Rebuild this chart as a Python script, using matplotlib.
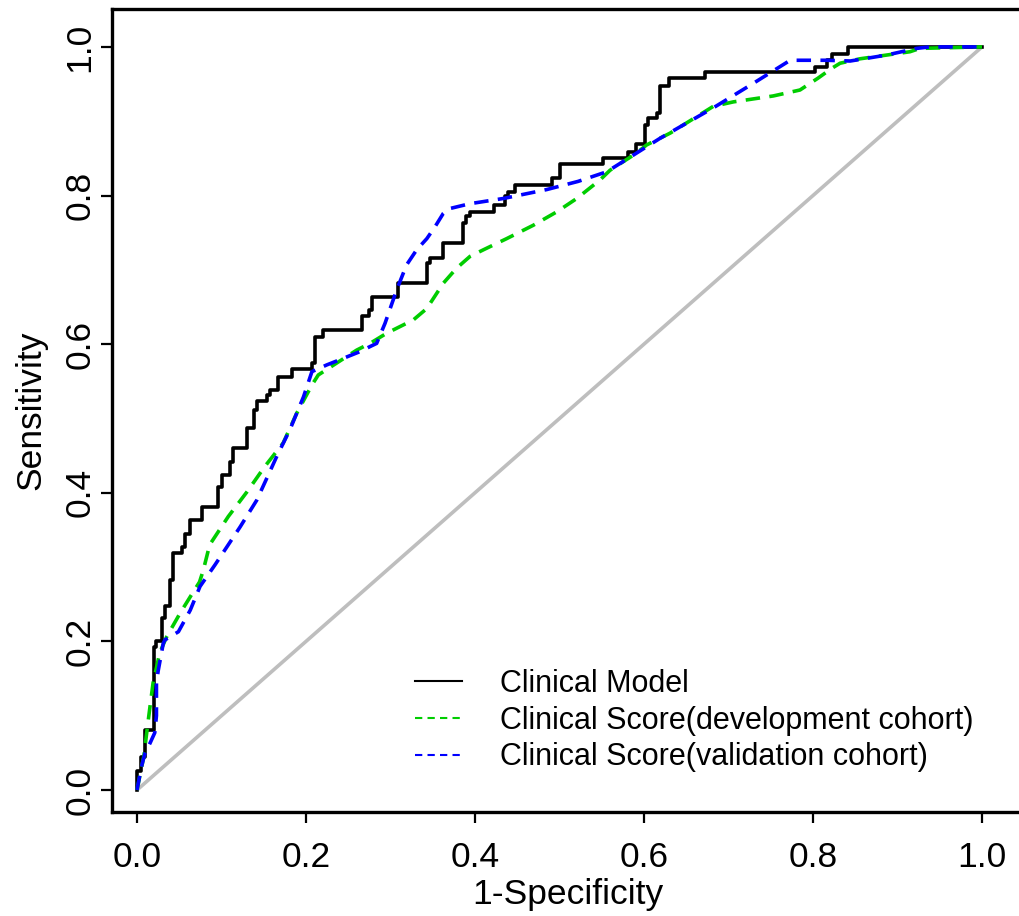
import matplotlib
matplotlib.use("Agg")
import matplotlib.pyplot as plt
from matplotlib.lines import Line2D

# ---------------- data ----------------
model_fpr = [0, 0, 0.0047, 0.0095, 0.020, 0.023, 0.029, 0.033, 0.039, 0.043,
             0.053, 0.057, 0.063, 0.0765, 0.096, 0.100, 0.110, 0.114, 0.130, 0.138,
             0.142, 0.1535, 0.157, 0.167, 0.183, 0.207, 0.211, 0.2205, 0.266, 0.274,
             0.278, 0.309, 0.343, 0.347, 0.3625, 0.386, 0.389, 0.394, 0.422, 0.4355,
             0.439, 0.447, 0.491, 0.5006, 0.552, 0.581, 0.591, 0.601, 0.605, 0.615,
             0.619, 0.629, 0.672, 0.802, 0.816, 0.822, 0.842, 1.0]
model_tpr = [0, 0.026, 0.045, 0.081, 0.193, 0.200, 0.231, 0.247, 0.283, 0.319,
             0.327, 0.345, 0.363, 0.381, 0.408, 0.424, 0.442, 0.460, 0.487, 0.511,
             0.523, 0.532, 0.538, 0.556, 0.566, 0.574, 0.610, 0.619, 0.638, 0.646,
             0.664, 0.682, 0.709, 0.716, 0.736, 0.763, 0.772, 0.778, 0.787, 0.799,
             0.805, 0.814, 0.823, 0.842, 0.850, 0.859, 0.869, 0.895, 0.904, 0.911,
             0.947, 0.958, 0.966, 0.9735, 0.982, 0.991, 1.0, 1.0]

dev_fpr = [0, 0.008, 0.014, 0.019, 0.027, 0.035, 0.051, 0.063, 0.074, 0.0785,
           0.086, 0.108, 0.130, 0.151, 0.173, 0.189, 0.207, 0.2145, 0.260, 0.2757,
           0.2955, 0.327, 0.343, 0.3625, 0.378, 0.394, 0.410, 0.4375, 0.469, 0.4967,
           0.5204, 0.548, 0.5598, 0.591, 0.603, 0.631, 0.682, 0.7057, 0.753, 0.7846,
           0.806, 0.822, 0.832, 0.8556, 0.887, 0.9148, 0.9266, 1.0]
dev_tpr = [0, 0.045, 0.100, 0.144, 0.185, 0.206, 0.238, 0.260, 0.280, 0.296,
           0.330, 0.368, 0.401, 0.435, 0.467, 0.507, 0.545, 0.5585, 0.592, 0.601,
           0.6147, 0.6326, 0.648, 0.682, 0.702, 0.718, 0.727, 0.742, 0.760, 0.778,
           0.796, 0.821, 0.834, 0.857, 0.868, 0.884, 0.920, 0.926, 0.934, 0.942,
           0.958, 0.971, 0.978, 0.984, 0.989, 0.9935, 0.998, 1.0]

val_fpr = [0, 0.005, 0.0095, 0.0154, 0.021, 0.023, 0.023, 0.025, 0.031, 0.033,
           0.049, 0.063, 0.0746, 0.0923, 0.122, 0.1417, 0.157, 0.165, 0.181, 0.197,
           0.207, 0.2245, 0.240, 0.264, 0.2757, 0.2836, 0.2935, 0.3073, 0.319, 0.331,
           0.343, 0.3527, 0.3625, 0.3685, 0.394, 0.4335, 0.4848, 0.522, 0.556, 0.591,
           0.619, 0.682, 0.7294, 0.773, 0.816, 0.844, 0.887, 0.9227, 0.938, 1.0]
val_tpr = [0, 0.030, 0.050, 0.063, 0.077, 0.100, 0.144, 0.160, 0.197, 0.202,
           0.213, 0.242, 0.274, 0.303, 0.354, 0.390, 0.428, 0.448, 0.485, 0.529,
           0.563, 0.572, 0.579, 0.590, 0.5967, 0.601, 0.628, 0.673, 0.7066, 0.727,
           0.742, 0.758, 0.776, 0.782, 0.789, 0.796, 0.808, 0.819, 0.832, 0.857,
           0.877, 0.918, 0.951, 0.982, 0.982, 0.981, 0.989, 0.998, 1.0, 1.0]

ref_x = [0, 1]
ref_y = [0, 1]

ticks = [0.0, 0.2, 0.4, 0.6, 0.8, 1.0]
tick_labels = ["0.0", "0.2", "0.4", "0.6", "0.8", "1.0"]
series_labels = ["Clinical Model",
                 "Clinical Score(development cohort)",
                 "Clinical Score(validation cohort)"]

# ---------------- figure ----------------
plt.rcParams['font.family'] = ['Liberation Sans', 'DejaVu Sans']
W, H = 1019, 916
fig = plt.figure(figsize=(W / 100, H / 100), dpi=100)

# axes box in pixels
px_left, px_right, px_top, px_bottom = 112, 1024.25, 9, 812
ax = fig.add_axes([px_left / W, 1 - px_bottom / H,
                   (px_right - px_left) / W, (px_bottom - px_top) / H])
ax.set_xlim(-0.0296, 1.05)
ax.set_ylim(-0.0296, 1.051)

green = "#00CD00"
blue = "#0000FF"
grey = "#BEBEBE"
lw = 2.6
dash = (4.0, 2.6)

ax.plot(ref_x, ref_y, color=grey, lw=lw, solid_capstyle='butt', zorder=1)
ax.plot(model_fpr, model_tpr, color="black", lw=lw, drawstyle='steps-post', zorder=2)
ax.plot(dev_fpr, dev_tpr, color=green, lw=lw, linestyle=(0, dash), zorder=3)
ax.plot(val_fpr, val_tpr, color=blue, lw=lw, linestyle=(0, dash), zorder=4)

for s in ax.spines.values():
    s.set_linewidth(2.4)

ax.set_xticks(ticks)
ax.set_xticklabels(tick_labels)
ax.set_yticks(ticks)
ax.set_yticklabels(tick_labels, rotation=90, va='center')
ax.tick_params(axis='both', direction='out', length=8, width=1.6, labelsize=25.5)
ax.tick_params(axis='x', pad=13)
ax.tick_params(axis='y', pad=3)

ax.set_xlabel("1-Specificity", fontsize=25.5, labelpad=3)
ax.set_ylabel("Sensitivity", fontsize=25.5, labelpad=12)

handles = [Line2D([], [], color="black", lw=1.5),
           Line2D([], [], color=green, lw=1.5, linestyle=(0, (3.5, 2.5))),
           Line2D([], [], color=blue, lw=1.5, linestyle=(0, (3.5, 2.5)))]
leg = ax.legend(handles, series_labels, loc='upper left',
                bbox_to_anchor=(415 / W, 1 - 669 / H), bbox_transform=fig.transFigure,
                frameon=False, fontsize=22, handlelength=1.54, handletextpad=1.23,
                labelspacing=0.22, borderpad=0, borderaxespad=0)

fig.savefig("out.png", dpi=100)
